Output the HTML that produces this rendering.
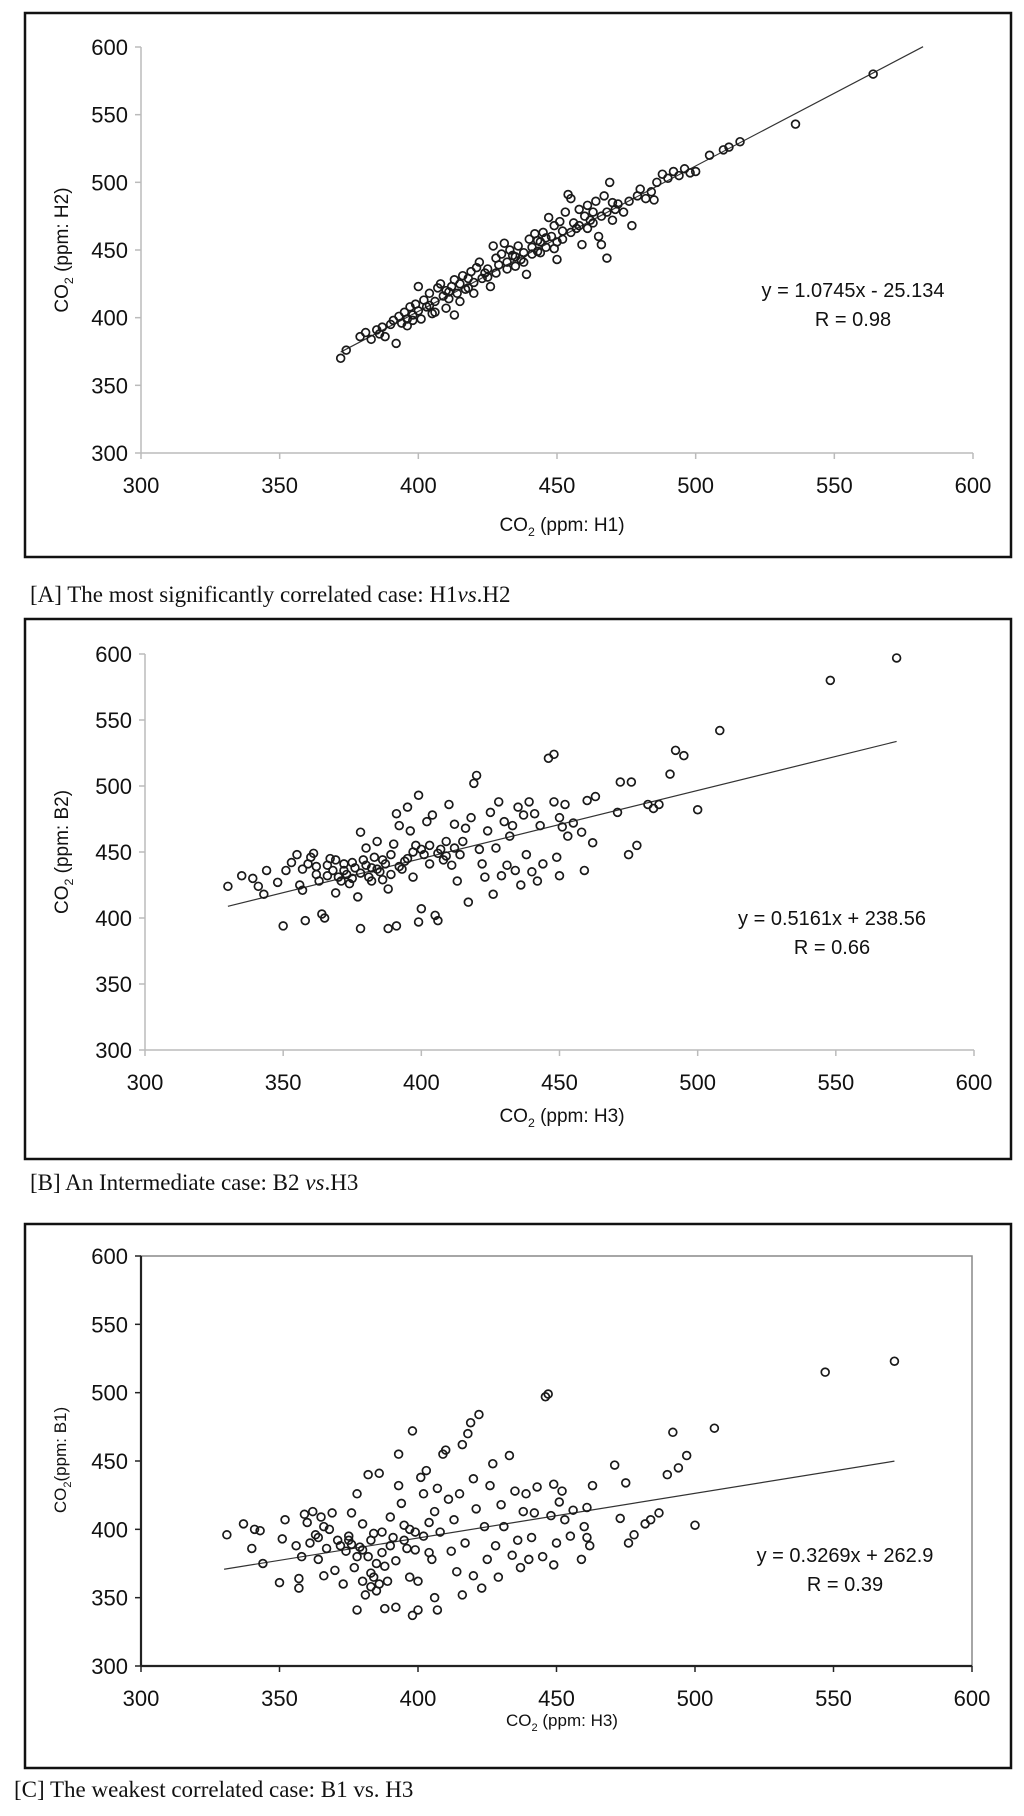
<!DOCTYPE html>
<html><head><meta charset="utf-8"><style>
html,body{margin:0;padding:0;background:#fff;}
svg{display:block;}
text{font-family:"Liberation Sans",Arial,sans-serif;fill:#111;}
.cap{font-family:"Liberation Serif","Times New Roman",serif;font-size:23px;}
</style></head><body>
<svg id="fig" width="1024" height="1816" viewBox="0 0 1024 1816" xmlns="http://www.w3.org/2000/svg"></svg>
<script>
const ticks = [300,350,400,450,500,550,600];
const tickLabels = ["300","350","400","450","500","550","600"];
const fitA = [1.0745, -25.134, 372, 582];
const fitB = [0.5161, 238.56, 330, 572];
const fitC = [0.3269, 262.9, 330, 572];
const pointsA = [[372,370],[374,376],[379,386],[381,389],[383,384],[385,391],[386,388],[387,393],[388,386],[390,395],[391,398],[392,381],[393,401],[394,396],[395,404],[396,399],[397,408],[398,402],[399,410],[400,423],[400,405],[401,399],[402,413],[403,408],[404,418],[405,403],[406,412],[407,422],[408,425],[409,416],[410,407],[410,420],[411,414],[412,423],[413,402],[413,428],[414,418],[415,425],[416,431],[417,421],[418,429],[419,434],[420,426],[421,437],[422,441],[423,429],[424,433],[425,436],[426,423],[427,453],[428,444],[429,439],[430,447],[431,455],[432,441],[433,450],[434,446],[435,438],[436,453],[437,443],[438,448],[439,432],[440,458],[441,452],[442,462],[443,449],[444,456],[445,463],[446,452],[447,474],[448,460],[449,468],[450,456],[450,443],[451,471],[452,464],[453,478],[454,491],[455,488],[456,470],[457,466],[458,480],[459,454],[460,475],[461,483],[462,472],[463,478],[464,486],[465,460],[466,454],[467,490],[468,444],[468,478],[469,500],[470,485],[471,480],[472,484],[474,478],[476,486],[477,468],[479,490],[480,495],[482,488],[484,493],[485,487],[486,500],[488,506],[490,503],[492,508],[494,505],[496,510],[498,507],[500,508],[505,520],[510,524],[512,526],[516,530],[536,543],[564,580],[441,447],[443,457],[446,459],[449,451],[452,458],[455,463],[458,468],[461,466],[463,470],[466,475],[470,472],[396,394],[398,398],[404,409],[406,404],[411,419],[415,412],[418,422],[420,418],[425,430],[428,433],[432,436],[435,445],[438,441],[444,448]];
const pointsB = [[330,424],[335,432],[339,430],[341,424],[343,418],[344,436],[348,427],[350,394],[351,436],[353,442],[355,448],[356,425],[357,421],[358,398],[359,441],[360,446],[361,449],[362,433],[363,428],[364,403],[365,400],[366,440],[367,445],[368,436],[369,419],[370,431],[371,428],[372,441],[373,433],[374,426],[375,442],[376,438],[377,416],[378,465],[378,392],[379,444],[380,453],[381,431],[382,438],[383,446],[384,458],[385,435],[386,429],[387,441],[388,422],[388,392],[389,448],[390,456],[391,479],[391,394],[392,470],[393,437],[394,443],[395,484],[396,466],[397,431],[398,455],[399,493],[399,397],[400,407],[401,448],[402,473],[403,441],[404,478],[405,402],[406,398],[407,452],[408,444],[409,458],[410,486],[411,440],[412,471],[413,428],[414,448],[415,458],[416,468],[417,412],[418,476],[419,502],[420,508],[421,452],[422,441],[423,431],[424,466],[425,480],[426,418],[427,453],[428,488],[429,432],[430,473],[431,440],[432,462],[433,470],[434,436],[435,484],[436,425],[437,478],[438,448],[439,488],[440,435],[441,479],[442,428],[443,470],[444,441],[446,521],[448,524],[448,488],[449,446],[450,476],[450,432],[451,469],[452,486],[453,462],[455,472],[458,465],[459,436],[460,489],[462,457],[463,492],[471,480],[472,503],[475,448],[476,503],[478,455],[482,486],[484,483],[486,486],[490,509],[492,527],[495,523],[500,482],[508,542],[548,580],[572,597],[372,436],[375,430],[378,434],[380,440],[382,428],[384,437],[386,444],[389,433],[392,439],[395,445],[397,450],[400,452],[403,455],[406,449],[409,447],[412,453],[362,439],[366,432],[369,444],[357,437]];
const pointsC = [[331,396],[337,404],[340,386],[341,400],[343,399],[344,375],[350,361],[351,393],[352,407],[356,388],[357,364],[357,357],[358,380],[359,411],[360,405],[361,390],[362,413],[363,396],[364,378],[365,409],[366,366],[367,386],[368,400],[369,412],[370,370],[371,392],[373,360],[374,384],[375,395],[376,412],[377,372],[378,341],[378,426],[379,387],[380,404],[380,362],[381,352],[382,440],[382,380],[383,368],[384,397],[385,355],[386,441],[387,383],[388,342],[388,373],[389,362],[390,409],[391,394],[392,343],[393,455],[393,432],[394,419],[395,403],[396,386],[397,365],[398,472],[398,337],[399,398],[400,362],[400,341],[401,438],[402,426],[403,443],[404,383],[405,378],[406,350],[406,413],[407,430],[407,341],[408,398],[409,455],[410,458],[411,422],[412,384],[413,407],[414,369],[415,426],[416,352],[416,462],[417,390],[418,470],[419,478],[420,366],[420,437],[421,415],[422,484],[423,357],[424,402],[425,378],[426,432],[427,448],[428,388],[429,365],[430,418],[431,402],[433,454],[434,381],[435,428],[436,392],[437,372],[438,413],[439,426],[440,378],[441,394],[442,412],[443,431],[445,380],[446,497],[447,499],[448,410],[449,433],[449,374],[450,390],[451,420],[452,428],[453,407],[455,395],[456,414],[459,378],[460,402],[461,416],[461,394],[462,388],[463,432],[471,447],[473,408],[475,434],[476,390],[478,396],[482,404],[484,407],[487,412],[490,440],[492,471],[494,445],[497,454],[500,403],[507,474],[547,515],[572,523],[372,388],[375,392],[378,380],[380,385],[383,392],[385,375],[387,398],[390,388],[392,377],[395,392],[397,400],[399,385],[402,395],[404,405],[384,365],[386,360],[383,358],[376,389],[364,394],[366,402]];

const NS = "http://www.w3.org/2000/svg";
const svg = document.getElementById('fig');
function el(tag, attrs, parent, txt) {
  const e = document.createElementNS(NS, tag);
  for (const k in attrs) e.setAttribute(k, attrs[k]);
  if (txt !== undefined) e.textContent = txt;
  (parent || svg).appendChild(e);
  return e;
}
function chart(cfg) {
  const g = el('g', {});
  
  
  const box = el('rect', {x:cfg.box[0], y:cfg.box[1], width:cfg.box[2]-cfg.box[0], height:cfg.box[3]-cfg.box[1], fill:'#fff', stroke:'#111', 'stroke-width':2.5}, g);
  
  
  const X = v => cfg.x0 + (v-300)/300*(cfg.x1-cfg.x0);
  const Y = v => cfg.yb - (v-300)/300*(cfg.yb-cfg.ytop);
  if (cfg.frame) {
    const pf = el('rect', {x:X(300), y:Y(600), width:X(600)-X(300), height:Y(300)-Y(600), fill:'none', stroke:'#888', 'stroke-width':1.5}, g);
    
    
  }
  const axCol = cfg.dark ? '#222' : '#bbb';
  const axW = cfg.dark ? 2.2 : 1.5;
  const yax = el('line', {x1:X(300), y1:Y(300), x2:X(300), y2:Y(600), stroke:axCol, 'stroke-width':axW}, g);
  
  
  const xax = el('line', {x1:X(300), y1:Y(300), x2:X(600), y2:Y(300), stroke:axCol, 'stroke-width':axW}, g);
  
  
  ticks.forEach((t,i) => {
    el('line', {x1:X(300)-6, y1:Y(t), x2:X(300), y2:Y(t), stroke:axCol, 'stroke-width':1.5}, g);
    el('line', {x1:X(t), y1:Y(300), x2:X(t), y2:Y(300)+6, stroke:axCol, 'stroke-width':1.5}, g);
    const yl = el('text', {x:X(300)-13, y:Y(t)+8, 'text-anchor':'end', 'font-size':22}, g, tickLabels[i]);
    
    
    const xl = el('text', {x:X(t), y:Y(300)+40, 'text-anchor':'middle', 'font-size':22}, g, tickLabels[i]);
    
    
  });
  const f = cfg.fit;
  const tl = el('line', {x1:X(f[2]), y1:Y(f[0]*f[2]+f[1]), x2:X(f[3]), y2:Y(f[0]*f[3]+f[1]), stroke:'#333', 'stroke-width':1.2}, g);
  
  
  cfg.pts.forEach(p => {
    const c = el('circle', {cx:X(p[0]), cy:Y(p[1]), r:3.9, fill:'none', stroke:'#1a1a1a', 'stroke-width':1.7}, g);
    
    
  });
  const eq = el('text', {x:cfg.eq[0], y:cfg.eq[1], 'text-anchor':'middle', 'font-size':20}, g, cfg.eqText);
  
  
  const rr = el('text', {x:cfg.eq[0], y:cfg.eq[1]+29, 'text-anchor':'middle', 'font-size':20}, g, cfg.rText);
  
  
  const xt = el('text', {x:cfg.xt[0], y:cfg.xt[1], 'text-anchor':'middle', 'font-size':cfg.tf}, g);
  
  
  el('tspan', {}, xt, 'CO');
  el('tspan', {dy:5, 'font-size':cfg.tf*0.65}, xt, '2');
  el('tspan', {dy:-5}, xt, ' (ppm: ' + cfg.xlab + ')');
  const yt = el('text', {x:0, y:0, 'text-anchor':'middle', 'font-size':cfg.tf, transform:'translate(' + cfg.ytitle[0] + ',' + cfg.ytitle[1] + ') rotate(-90)'}, g);
  
  
  el('tspan', {}, yt, 'CO');
  el('tspan', {dy:5, 'font-size':cfg.tf*0.65}, yt, '2');
  el('tspan', {dy:-5}, yt, cfg.ysep + '(ppm: ' + cfg.ylab + ')');
}
chart({name:'chart-a-h1-vs-h2', box:[25,13,1011,557], x0:141, x1:973, ytop:47, yb:453, ytitle:[68,250], fit:fitA, pts:pointsA, eq:[853,297], eqText:'y = 1.0745x - 25.134', rText:'R = 0.98', xt:[562,531], tf:19, xlab:'H1', ylab:'H2', ysep:' ', dark:false, frame:false});
chart({name:'chart-b-b2-vs-h3', box:[25,619,1011,1159], x0:145, x1:974, ytop:654, yb:1050, ytitle:[68,852], fit:fitB, pts:pointsB, eq:[832,925], eqText:'y = 0.5161x + 238.56', rText:'R = 0.66', xt:[562,1122], tf:19, xlab:'H3', ylab:'B2', ysep:' ', dark:false, frame:false});
chart({name:'chart-c-b1-vs-h3', box:[25,1224,1011,1768], x0:141, x1:972, ytop:1256, yb:1666, ytitle:[66,1460], fit:fitC, pts:pointsC, eq:[845,1562], eqText:'y = 0.3269x + 262.9', rText:'R = 0.39', xt:[562,1726], tf:17, xlab:'H3', ylab:'B1', ysep:'', dark:true, frame:true});
</script>
<script>
(function(){
  const svgEl = document.getElementById('fig');
  const NS2 = "http://www.w3.org/2000/svg";
  const a = document.createElementNS(NS2,'text');
  a.setAttribute('x',30); a.setAttribute('y',602); a.setAttribute('class','cap');
  
  
  a.innerHTML = '[A] The most significantly correlated case: H1<tspan font-style="italic">vs</tspan>.H2';
  svgEl.appendChild(a);
  const b = document.createElementNS(NS2,'text');
  b.setAttribute('x',30); b.setAttribute('y',1190); b.setAttribute('class','cap');
  
  
  b.innerHTML = '[B] An Intermediate case: B2 <tspan font-style="italic">vs</tspan>.H3';
  svgEl.appendChild(b);
  const c = document.createElementNS(NS2,'text');
  c.setAttribute('x',14); c.setAttribute('y',1797); c.setAttribute('class','cap');
  
  
  c.textContent = '[C] The weakest correlated case: B1 vs. H3';
  svgEl.appendChild(c);
})();
</script>
</body></html>
